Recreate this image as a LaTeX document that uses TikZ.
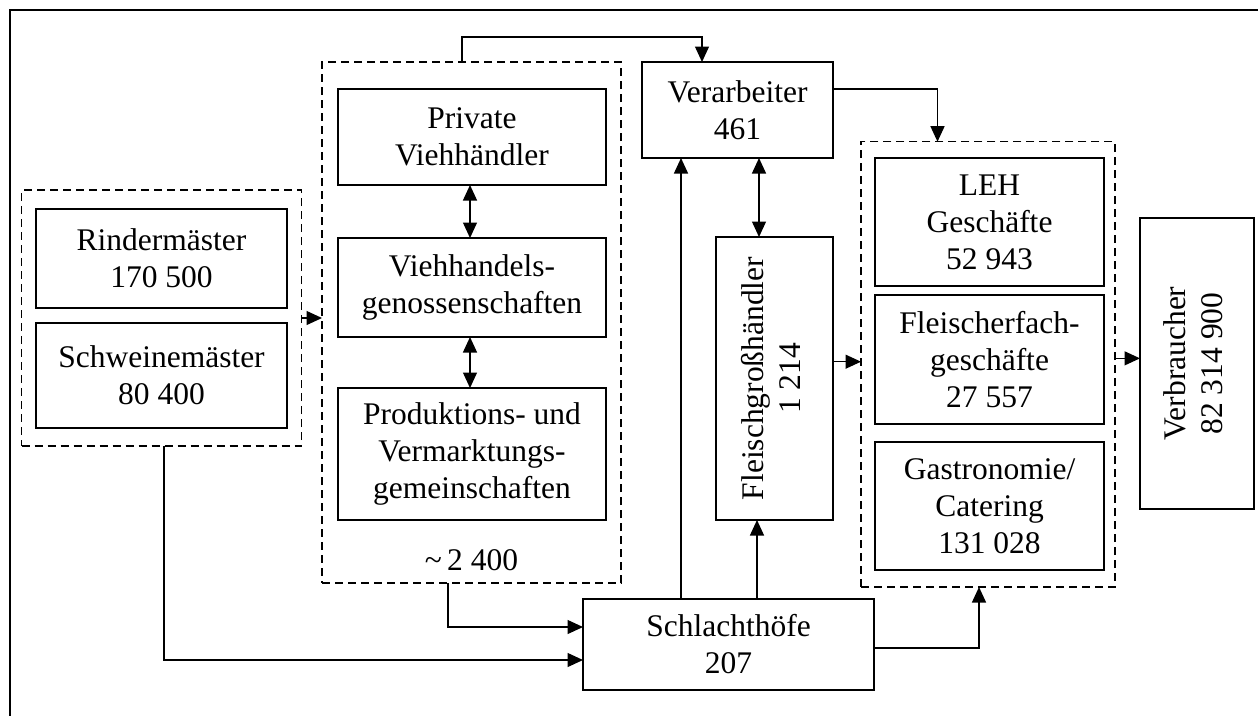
\documentclass[tikz,border=0pt]{standalone}
\usepackage{fontspec}
\setmainfont{Liberation Serif}
\usetikzlibrary{arrows.meta}
\begin{document}
\begin{tikzpicture}[x=1pt,y=-1pt,
  every node/.style={font=\fontsize{31.5}{37}\selectfont, inner sep=0pt, outer sep=0pt},
  box/.style={draw, line width=1.7pt, align=center},
  group/.style={draw, dash pattern=on 8pt off 5pt, line width=1.5pt},
  tip/.style={Triangle[length=15.5pt,width=14pt]},
  link/.style={line width=1.3pt, -{Triangle[length=15.5pt,width=14pt]}},
  both/.style={line width=1.3pt, {Triangle[length=15.5pt,width=14pt]}-{Triangle[length=15.5pt,width=14pt]}}]
\useasboundingbox (0,0) rectangle (1258,716);
% frame
\draw[line width=2.3pt] (1258,10) -- (10,10) -- (10,716);

% producers
\node[group, minimum width=280pt, minimum height=256pt] (lg) at (161.7,318) {};
\node[box, minimum width=251pt, minimum height=99pt] (rind) at (161.5,258.5) {Rindermäster\\170 500};
\node[box, minimum width=251pt, minimum height=105pt] (schw) at (161.5,375.5) {Schweinemäster\\80 400};

% livestock trade
\node[group, minimum width=299pt, minimum height=521pt] (mg) at (471.5,322.5) {};
\node[box, minimum width=268pt, minimum height=96pt] (priv) at (472,137) {Private\\Viehhändler};
\node[box, minimum width=268pt, minimum height=99pt] (vhg) at (472,287.5) {Viehhandels-\\genossenschaften};
\node[box, minimum width=268pt, minimum height=132pt] (pvg) at (472,454) {Produktions- und\\Vermarktungs-\\gemeinschaften};
\node (anz) at (471.5,560) {\textasciitilde\,2 400};

% processing
\node[box, minimum width=191pt, minimum height=96pt] (verarb) at (737.5,110) {Verarbeiter\\461};
\node[box, minimum width=117pt, minimum height=283pt] (fgh) at (774.5,378.5)
  {\rotatebox{90}{\begin{tabular}{@{}c@{}}Fleischgroßhändler\\1 214\end{tabular}}};
\node[box, minimum width=291pt, minimum height=91pt] (sch) at (728.5,644.5) {Schlachthöfe\\207};

% retail
\node[group, minimum width=254pt, minimum height=445.3pt] (rg) at (988,364.35) {};
\node[box, minimum width=229pt, minimum height=128pt] (leh) at (989.5,222) {LEH\\Geschäfte\\52 943};
\node[box, minimum width=229pt, minimum height=129pt] (ffg) at (989.5,359.5) {Fleischerfach-\\geschäfte\\27 557};
\node[box, minimum width=229pt, minimum height=128pt] (gas) at (989.5,506) {Gastronomie/\\Catering\\131 028};

% consumers
\node[box, minimum width=114pt, minimum height=291pt] (verb) at (1197,363.5)
  {\rotatebox{90}{\begin{tabular}{@{}c@{}}Verbraucher\\82 314 900\end{tabular}}};

% connectors
\draw[link] (lg.east) -- (mg.west |- lg.east);
\draw[both] ([xshift=-2pt]priv.south) -- ([xshift=-2pt]vhg.north);
\draw[both] ([xshift=-2pt]vhg.south) -- ([xshift=-2pt]pvg.north);

\coordinate (top) at (0,37);
\coordinate (t1) at ([xshift=-9.5pt]mg.north);
\coordinate (t2) at ([xshift=-35.5pt]verarb.north);
\draw[link] (t1) -- (t1 |- top) -| (t2);

\draw[link] ([yshift=21pt]verarb.east) -| ([xshift=-50.5pt]rg.north);
\draw[both] ([xshift=-15.5pt]fgh.north) -- ([xshift=-15.5pt]fgh.north |- verarb.south);

\coordinate (s1) at ([xshift=-47.5pt]sch.north);
\draw[link] (s1) -- (s1 |- verarb.south);
\coordinate (s2) at ([xshift=28.5pt]sch.north);
\draw[link] (s2) -- (s2 |- fgh.south);
\draw[link] ([yshift=-3.5pt]sch.east) -| ([xshift=-9pt]rg.south);

\draw[link] ([xshift=-23.5pt]mg.south) |- ([yshift=17.5pt]sch.west);
\draw[link] ([xshift=2.3pt]lg.south) |- ([yshift=-15.5pt]sch.west);

\coordinate (f1) at ([yshift=16.8pt]fgh.east);
\draw[link] (f1) -- (rg.west |- f1);
\coordinate (r1) at ([yshift=6pt]rg.east);
\draw[link] (r1) -- (verb.west |- r1);
\end{tikzpicture}
\end{document}
